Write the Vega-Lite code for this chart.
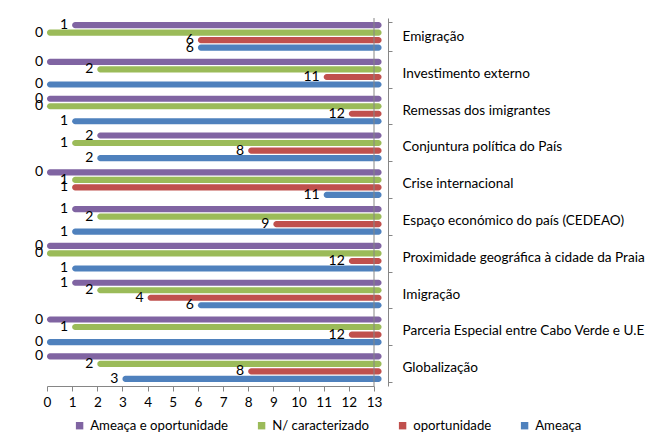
{
  "$schema": "https://vega.github.io/schema/vega-lite/v6.json",
  "autosize": "none",
  "width": 327,
  "height": 368,
  "padding": {"left": 47, "top": 18, "right": 295, "bottom": 52},
  "background": "white",
  "config": {
    "view": {"stroke": null},
    "font": "Lato",
    "axis": {"labelFont": "Lato", "labelColor": "#000000"},
    "legend": {"labelFont": "Lato", "labelColor": "#000000"}
  },
  "datasets": {
    "main": [
      {"cat": "Emigração", "serie": "Ameaça e oportunidade", "v": 1},
      {"cat": "Emigração", "serie": "N/ caracterizado", "v": 0},
      {"cat": "Emigração", "serie": "oportunidade", "v": 6},
      {"cat": "Emigração", "serie": "Ameaça", "v": 6},
      {"cat": "Investimento externo", "serie": "Ameaça e oportunidade", "v": 0},
      {"cat": "Investimento externo", "serie": "N/ caracterizado", "v": 2},
      {"cat": "Investimento externo", "serie": "oportunidade", "v": 11},
      {"cat": "Investimento externo", "serie": "Ameaça", "v": 0},
      {"cat": "Remessas dos imigrantes", "serie": "Ameaça e oportunidade", "v": 0},
      {"cat": "Remessas dos imigrantes", "serie": "N/ caracterizado", "v": 0},
      {"cat": "Remessas dos imigrantes", "serie": "oportunidade", "v": 12},
      {"cat": "Remessas dos imigrantes", "serie": "Ameaça", "v": 1},
      {"cat": "Conjuntura política do País", "serie": "Ameaça e oportunidade", "v": 2},
      {"cat": "Conjuntura política do País", "serie": "N/ caracterizado", "v": 1},
      {"cat": "Conjuntura política do País", "serie": "oportunidade", "v": 8},
      {"cat": "Conjuntura política do País", "serie": "Ameaça", "v": 2},
      {"cat": "Crise internacional", "serie": "Ameaça e oportunidade", "v": 0},
      {"cat": "Crise internacional", "serie": "N/ caracterizado", "v": 1},
      {"cat": "Crise internacional", "serie": "oportunidade", "v": 1},
      {"cat": "Crise internacional", "serie": "Ameaça", "v": 11},
      {"cat": "Espaço económico do país (CEDEAO)", "serie": "Ameaça e oportunidade", "v": 1},
      {"cat": "Espaço económico do país (CEDEAO)", "serie": "N/ caracterizado", "v": 2},
      {"cat": "Espaço económico do país (CEDEAO)", "serie": "oportunidade", "v": 9},
      {"cat": "Espaço económico do país (CEDEAO)", "serie": "Ameaça", "v": 1},
      {"cat": "Proximidade geográfica à cidade da Praia", "serie": "Ameaça e oportunidade", "v": 0},
      {"cat": "Proximidade geográfica à cidade da Praia", "serie": "N/ caracterizado", "v": 0},
      {"cat": "Proximidade geográfica à cidade da Praia", "serie": "oportunidade", "v": 12},
      {"cat": "Proximidade geográfica à cidade da Praia", "serie": "Ameaça", "v": 1},
      {"cat": "Imigração", "serie": "Ameaça e oportunidade", "v": 1},
      {"cat": "Imigração", "serie": "N/ caracterizado", "v": 2},
      {"cat": "Imigração", "serie": "oportunidade", "v": 4},
      {"cat": "Imigração", "serie": "Ameaça", "v": 6},
      {"cat": "Parceria Especial entre Cabo Verde e U.E", "serie": "Ameaça e oportunidade", "v": 0},
      {"cat": "Parceria Especial entre Cabo Verde e U.E", "serie": "N/ caracterizado", "v": 1},
      {"cat": "Parceria Especial entre Cabo Verde e U.E", "serie": "oportunidade", "v": 12},
      {"cat": "Parceria Especial entre Cabo Verde e U.E", "serie": "Ameaça", "v": 0},
      {"cat": "Globalização", "serie": "Ameaça e oportunidade", "v": 0},
      {"cat": "Globalização", "serie": "N/ caracterizado", "v": 2},
      {"cat": "Globalização", "serie": "oportunidade", "v": 8},
      {"cat": "Globalização", "serie": "Ameaça", "v": 3}
    ],
    "edge": [{"v": 13}]
  },
  "data": {"name": "main"},
  "encoding": {
    "x": {
      "field": "v",
      "type": "quantitative",
      "scale": {"domain": [0, 13], "nice": false, "zero": false},
      "axis": {
        "title": null,
        "tickCount": 13,
        "grid": false,
        "domainColor": "#868686",
        "tickColor": "#868686",
        "tickSize": 5,
        "labelFontSize": 13.5,
        "labelPadding": 4,
        "labelOverlap": false,
        "labelSeparation": 0,
        "labelFlush": false
      }
    },
    "y": {
      "field": "cat",
      "type": "nominal",
      "sort": null,
      "scale": {"paddingInner": 0.22, "paddingOuter": 0.11},
      "axis": {
        "orient": "right",
        "title": null,
        "offset": 14,
        "domainColor": "#868686",
        "tickColor": "#868686",
        "tickBand": "extent",
        "tickSize": 4,
        "labelPadding": 10,
        "labelFontSize": 13.6,
        "labelLimit": 320
      }
    },
    "yOffset": {
      "field": "serie",
      "type": "nominal",
      "sort": ["Ameaça e oportunidade", "N/ caracterizado", "oportunidade", "Ameaça"],
      "scale": {"paddingInner": 0.18}
    }
  },
  "layer": [
    {
      "mark": {"type": "bar", "cornerRadius": 3, "clip": false},
      "encoding": {
        "x2": {"datum": 13.3},
        "color": {
          "field": "serie",
          "type": "nominal",
          "scale": {
            "domain": ["Ameaça e oportunidade", "N/ caracterizado", "oportunidade", "Ameaça"],
            "range": ["#8064A2", "#9BBB59", "#C0504D", "#4F81BD"]
          },
          "legend": {
            "title": null,
            "orient": "none",
            "direction": "horizontal",
            "legendX": 26,
            "legendY": 401,
            "symbolType": "square",
            "symbolSize": 55,
            "symbolStrokeWidth": 0,
            "labelFontSize": 13.2,
            "columnPadding": 26
          }
        }
      }
    },
    {
      "data": {"name": "edge"},
      "mark": {"type": "rule", "color": "#868686", "strokeWidth": 1},
      "encoding": {"y": null, "yOffset": null}
    },
    {
      "mark": {"type": "text", "align": "right", "baseline": "middle", "dx": -4, "fontSize": 14, "color": "#000000"},
      "encoding": {
        "text": {"field": "v", "type": "quantitative"}
      }
    }
  ]
}
